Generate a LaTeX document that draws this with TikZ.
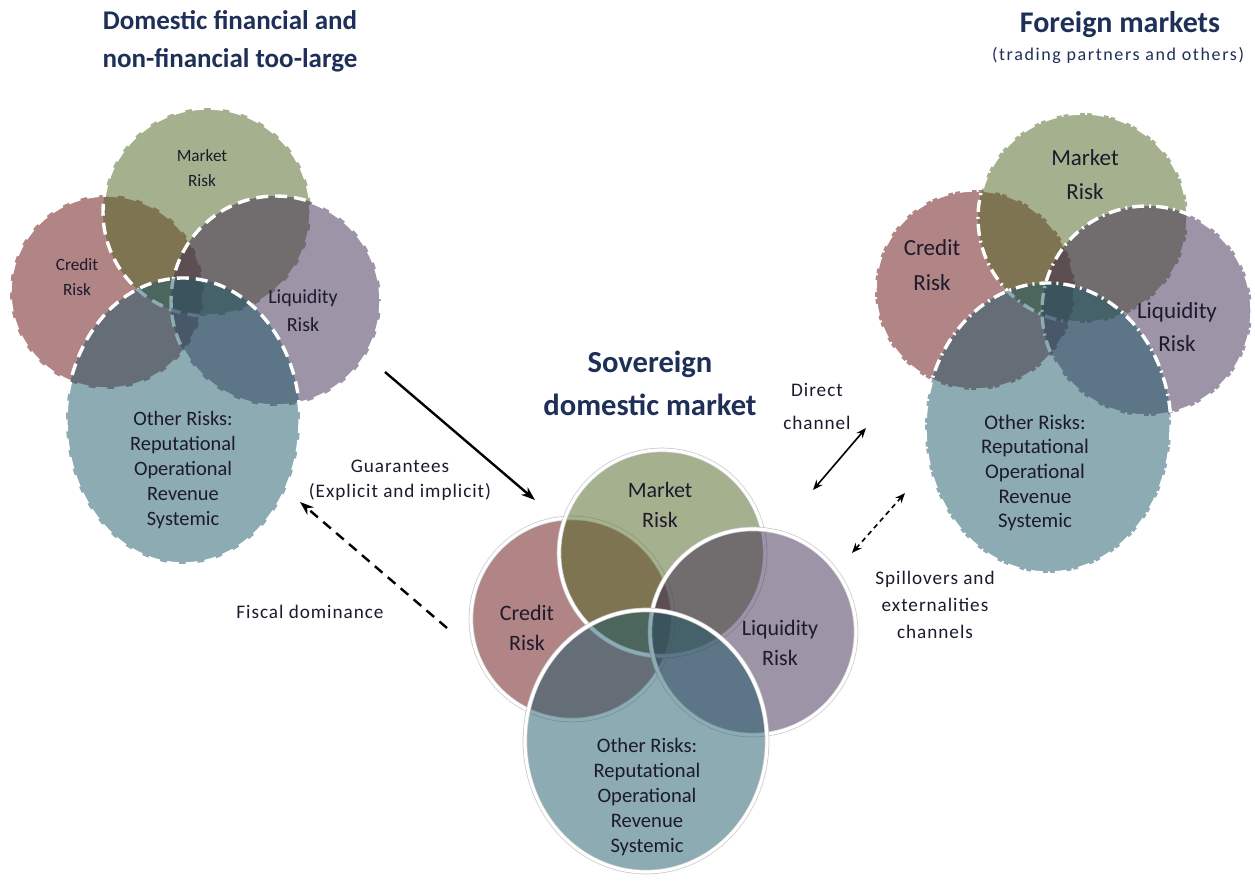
\documentclass[tikz,border=0pt]{standalone}
\usepackage{fontspec}
\setmainfont{Carlito}
\usetikzlibrary{arrows.meta}
\definecolor{mk}{RGB}{77,101,31}
\definecolor{cr}{RGB}{101,13,13}
\definecolor{lq}{RGB}{62,42,82}
\definecolor{ot}{RGB}{27,89,105}
\definecolor{ttl}{RGB}{30,48,88}
\definecolor{txt}{RGB}{28,26,44}
\tikzset{
  shfill/.style={fill=#1, fill opacity=0.5},
  halo/.style={draw=black!22, line width=2.3pt},
  nohalo/.style={draw=none},
  dashb/.style={draw=white, line width=1.7pt, dash pattern=on 6pt off 3.5pt},
  dotb/.style={draw=white, line width=1.7pt, dash pattern=on 6pt off 2.5pt on 1pt off 2.5pt},
  solidb/.style={draw=white, line width=1.6pt},
  ttlf/.style={text=ttl, align=center, inner sep=0pt},
  lbl/.style={text=txt, align=center, inner sep=0pt},
  conn/.style={line width=1.2pt, -{Stealth[length=7pt,width=5pt]}},
  connd/.style={line width=1.2pt, dash pattern=on 5pt off 3.5pt, -{Stealth[length=7pt,width=5pt]}},
  dconn/.style={line width=0.8pt, {Stealth[length=5pt,width=4pt]}-{Stealth[length=5pt,width=4pt]}},
  dconnd/.style={line width=0.8pt, dash pattern=on 2.5pt off 2pt, {Stealth[length=5pt,width=4pt]}-{Stealth[length=5pt,width=4pt]}},
}
% #1 colour, #2 halo style, #3 border style, #4 path
\newcommand{\vsh}[4]{%
  \fill[shfill=#1] #4;
  \path[#2] #4;
  \draw[#3] #4;}
\begin{document}
\begin{tikzpicture}[x=0.5pt,y=-0.5pt]
\useasboundingbox (0,0) rectangle (1255,882);
\fill[white] (0,0) rectangle (1255,882);

% ---------- left cluster ----------
\vsh{cr}{nohalo}{dashb}{(107,292) circle[radius=97]}
\vsh{mk}{nohalo}{dashb}{(207,212) circle[radius=104]}
\vsh{lq}{nohalo}{dashb}{(276,301) circle[radius=105]}
\vsh{ot}{nohalo}{dashb}{(183,421) ellipse[x radius=117, y radius=143]}

% ---------- right cluster ----------
\vsh{cr}{nohalo}{dotb}{(975,290) circle[radius=100]}
\vsh{mk}{nohalo}{dotb}{(1083,218) circle[radius=105]}
\vsh{lq}{nohalo}{dotb}{(1147,311) circle[radius=105]}
\vsh{ot}{nohalo}{dotb}{(1048,428) ellipse[x radius=123, y radius=145]}

% ---------- centre cluster ----------
\vsh{cr}{halo}{solidb}{(572,619) circle[radius=101]}
\vsh{mk}{halo}{solidb}{(662,553) circle[radius=103]}
\vsh{lq}{halo}{solidb}{(753,632) circle[radius=103]}
\vsh{ot}{halo}{solidb}{(646,741) ellipse[x radius=121, y radius=131]}

% ---------- titles ----------
\node[ttlf, font=\fontsize{13.5}{19}\selectfont\bfseries] (tdom) at (230,41) {Domestic financial and\\non-financial too-large};
\node[ttlf, font=\fontsize{15}{18}\selectfont\bfseries] (tfor) at (1120,25) {Foreign markets};
\node[ttlf, font=\fontsize{9}{10}\selectfont\addfontfeatures{LetterSpace=9}] (tfor2) at (1118,55) {(trading partners and others)};
\node[ttlf, font=\fontsize{15.3}{21.5}\selectfont\bfseries] (tsov) at (650,383) {Sovereign\\domestic market};

% ---------- left labels ----------
\node[lbl, font=\fontsize{8.6}{12.5}\selectfont] (lm) at (202,168) {Market\\Risk};
\node[lbl, font=\fontsize{8.6}{12.5}\selectfont] (lc) at (77,277) {Credit\\Risk};
\node[lbl, font=\fontsize{10}{14}\selectfont] (ll) at (303,311) {Liquidity\\Risk};
\node[lbl, font=\fontsize{10.2}{12.4}\selectfont] (lo) at (183,470) {Other Risks:\\Reputational\\Operational\\Revenue\\Systemic};

% ---------- right labels ----------
\node[lbl, font=\fontsize{11.5}{17}\selectfont] (rm) at (1085,175) {Market\\Risk};
\node[lbl, font=\fontsize{11.5}{17.5}\selectfont] (rc) at (932,265) {Credit\\Risk};
\node[lbl, font=\fontsize{11.5}{16.5}\selectfont] (rl) at (1177,327) {Liquidity\\Risk};
\node[lbl, font=\fontsize{10.4}{12.3}\selectfont] (ro) at (1035,473) {Other Risks:\\Reputational\\Operational\\Revenue\\Systemic};

% ---------- centre labels ----------
\node[lbl, font=\fontsize{11}{15}\selectfont] (cm) at (660,505) {Market\\Risk};
\node[lbl, font=\fontsize{11}{15}\selectfont] (cc) at (527,628) {Credit\\Risk};
\node[lbl, font=\fontsize{11}{15}\selectfont] (cl) at (780,643) {Liquidity\\Risk};
\node[lbl, font=\fontsize{10.3}{12.4}\selectfont] (co) at (647,797) {Other Risks:\\Reputational\\Operational\\Revenue\\Systemic};

% ---------- connector labels ----------
\node[lbl, font=\fontsize{9.6}{12.5}\selectfont\addfontfeatures{LetterSpace=5}] (gl) at (400,480) {Guarantees\\(Explicit and implicit)};
\node[lbl, font=\fontsize{9.6}{12.5}\selectfont\addfontfeatures{LetterSpace=5}] (fl) at (310,612) {Fiscal dominance};
\node[lbl, font=\fontsize{9.6}{16.5}\selectfont\addfontfeatures{LetterSpace=5}] (dl) at (817,406) {Direct\\channel};
\node[lbl, font=\fontsize{9.6}{13.5}\selectfont\addfontfeatures{LetterSpace=5}] (sl) at (935,605) {Spillovers and\\externalities\\channels};

% ---------- connectors ----------
\coordinate (g1) at (385,372); \coordinate (g2) at (535,500);
\coordinate (f1) at (447,628); \coordinate (f2) at (300,502);
\coordinate (d1) at (813,490); \coordinate (d2) at (866,428);
\coordinate (s1) at (852,553); \coordinate (s2) at (905,493);
\draw[conn] (g1) -- (g2);
\draw[connd] (f1) -- (f2);
\draw[dconn] (d1) -- (d2);
\draw[dconnd] (s1) -- (s2);
\end{tikzpicture}
\end{document}
